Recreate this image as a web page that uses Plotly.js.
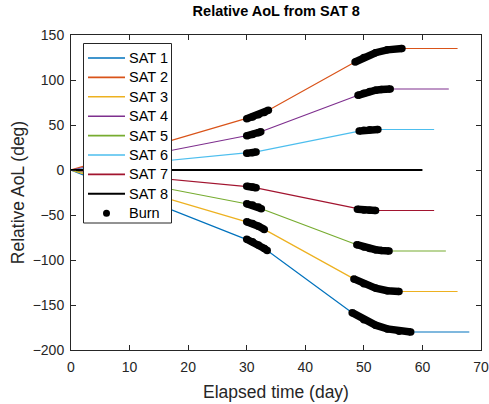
<!DOCTYPE html>
<html>
<head>
<meta charset="utf-8">
<script src="https://cdn.plot.ly/plotly-3.0.1.min.js"></script>
<style>html,body{margin:0;padding:0;background:#fff;}#chart{width:489px;height:404px;}</style>
</head>
<body>
<div id="chart"></div>
<script>
// Elapsed time (day) and relative AoL (deg) per satellite
const sat1T = [0, 30, 31, 32, 33, 33.5, 48, 50, 52, 54, 56, 58, 68];
const sat1V = [0, -77, -79.8, -83.2, -87.2, -89.5, -158.5, -166.5, -172.4, -176.6, -179.2, -180, -180];
const sat2T = [0, 30, 31, 32, 33, 33.7, 48.5, 50, 52, 54, 56.5, 66];
const sat2V = [0, 57, 59.0, 61.3, 64.0, 66.3, 120, 125, 130.3, 133.5, 135, 135];
const sat3T = [0, 30, 31, 32, 33, 48.3, 50, 52, 54, 56, 66];
const sat3V = [0, -57.4, -59.5, -62.5, -66, -121, -126.5, -131.2, -134.1, -135, -135];
const sat4T = [0, 30, 31, 32, 32.4, 49, 50, 51, 52, 53, 54.5, 64.5];
const sat4V = [0, 38, 39.4, 41.4, 42.5, 83, 85.3, 87.2, 88.6, 89.5, 90, 90];
const sat5T = [0, 30, 31, 32, 32.5, 48.8, 50, 51, 52, 53, 54.3, 64];
const sat5V = [0, -37.5, -38.9, -41, -43, -83, -85.6, -87.3, -88.6, -89.5, -90, -90];
const sat6T = [0, 30, 31, 31.6, 49.2, 50, 51, 52.4, 62];
const sat6V = [0, 18.5, 19.3, 20.1, 43.2, 44.1, 44.7, 45, 45];
const sat7T = [0, 30, 31, 31.6, 48.9, 50, 51, 52, 62];
const sat7V = [0, -18, -19, -19.8, -43.7, -44.4, -44.85, -45, -45];
const sat8T = [0, 60];
const sat8V = [0, 0];
// index ranges (into each satellite's arrays) covered by burns
const sat1Burns = [[1, 5], [6, 11]];
const sat2Burns = [[1, 5], [6, 10]];
const sat3Burns = [[1, 4], [5, 9]];
const sat4Burns = [[1, 4], [5, 10]];
const sat5Burns = [[1, 4], [5, 10]];
const sat6Burns = [[1, 3], [4, 7]];
const sat7Burns = [[1, 3], [4, 7]];
const satNames = ['SAT 1', 'SAT 2', 'SAT 3', 'SAT 4', 'SAT 5', 'SAT 6', 'SAT 7', 'SAT 8'];
const burnName = 'Burn';
const xTicks = [0, 10, 20, 30, 40, 50, 60, 70];
const yTicks = [-200, -150, -100, -50, 0, 50, 100, 150];

const colors = ['#0072BD', '#D95319', '#EDB120', '#7E2F8E', '#77AC30', '#4DBEEE', '#A2142F', '#000000'];
const sats = [
  [sat1T, sat1V, sat1Burns], [sat2T, sat2V, sat2Burns], [sat3T, sat3V, sat3Burns],
  [sat4T, sat4V, sat4Burns], [sat5T, sat5V, sat5Burns], [sat6T, sat6V, sat6Burns],
  [sat7T, sat7V, sat7Burns], [sat8T, sat8V, []]
];
const lineW = (i) => (i === 7 ? 2 : 1.2);

const traces = [];
sats.forEach((s, i) => {
  traces.push({
    x: s[0], y: s[1], type: 'scatter', mode: 'lines', name: satNames[i], showlegend: false,
    line: {color: colors[i], width: lineW(i)}
  });
});
sats.forEach((s) => {
  s[2].forEach((r) => {
    traces.push({
      x: s[0].slice(r[0], r[1] + 1), y: s[1].slice(r[0], r[1] + 1), name: burnName,
      type: 'scatter', mode: 'lines+markers', showlegend: false, hoverinfo: 'skip',
      line: {color: '#000', width: 7.5}, marker: {color: '#000', size: 7.5}
    });
  });
});

// Legend box (drawn in paper space, MATLAB-style spacing)
const M = {l: 71, r: 8, t: 35, b: 54};
const W = 489, H = 404;
const pw = W - M.l - M.r, ph = H - M.t - M.b;
const px = (x) => (x - M.l) / pw;
const py = (y) => (H - M.b - y) / ph;
const leg = {left: 83.5, right: 171.5, top: 43.5, bottom: 223, firstY: 58, step: 19.4,
  lineX0: 88, lineX1: 125, textX: 127};
const shapes = [{type: 'rect', xref: 'paper', yref: 'paper', x0: px(leg.left), x1: px(leg.right),
  y0: py(leg.bottom), y1: py(leg.top), line: {color: '#262626', width: 1}, fillcolor: '#fff', layer: 'above'}];
const annotations = [];
const legendItems = satNames.concat([burnName]);
legendItems.forEach((name, i) => {
  const yy = leg.firstY + i * leg.step;
  if (i < satNames.length) {
    shapes.push({type: 'line', xref: 'paper', yref: 'paper', x0: px(leg.lineX0), x1: px(leg.lineX1),
      y0: py(yy), y1: py(yy), line: {color: colors[i], width: i === 7 ? 2 : 1.6}, layer: 'above'});
  } else {
    const cx = (leg.lineX0 + leg.lineX1) / 2;
    shapes.push({type: 'circle', xref: 'paper', yref: 'paper', x0: px(cx - 3.5), x1: px(cx + 3.5),
      y0: py(yy + 3.5), y1: py(yy - 3.5), fillcolor: '#000', line: {color: '#000', width: 0}, layer: 'above'});
  }
  annotations.push({xref: 'paper', yref: 'paper', x: px(leg.textX), y: py(yy), xanchor: 'left', yanchor: 'middle',
    text: name, showarrow: false, font: {size: 14.5, color: '#000'}});
});

const axisCommon = {
  showline: true, linecolor: '#262626', linewidth: 1, mirror: 'ticks',
  ticks: 'inside', ticklen: 5, tickcolor: '#262626', showgrid: false, zeroline: false,
  tickfont: {family: 'Liberation Sans, Arial, sans-serif', size: 14, color: '#262626'}
};

const layout = {
  width: W, height: H, margin: M, showlegend: false,
  paper_bgcolor: '#fff', plot_bgcolor: '#fff',
  font: {family: 'Liberation Sans, Arial, sans-serif', color: '#262626'},
  title: {text: '<b>Relative AoL from SAT 8</b>', x: 0.565, xanchor: 'center', y: 0.972, yanchor: 'middle',
    font: {size: 14.5, color: '#000'}},
  xaxis: Object.assign({}, axisCommon, {range: [0, 70], tickvals: xTicks, ticklabelstandoff: 4,
    title: {text: 'Elapsed time (day)', font: {size: 17.5, color: '#262626'}, standoff: 11}}),
  yaxis: Object.assign({}, axisCommon, {range: [-200, 150], tickvals: yTicks, ticklabelstandoff: 3,
    title: {text: 'Relative AoL (deg)', font: {size: 17.5, color: '#262626'}, standoff: 3}}),
  shapes: shapes, annotations: annotations
};

Plotly.newPlot('chart', traces, layout, {displayModeBar: false, staticPlot: true});
</script>
</body>
</html>
